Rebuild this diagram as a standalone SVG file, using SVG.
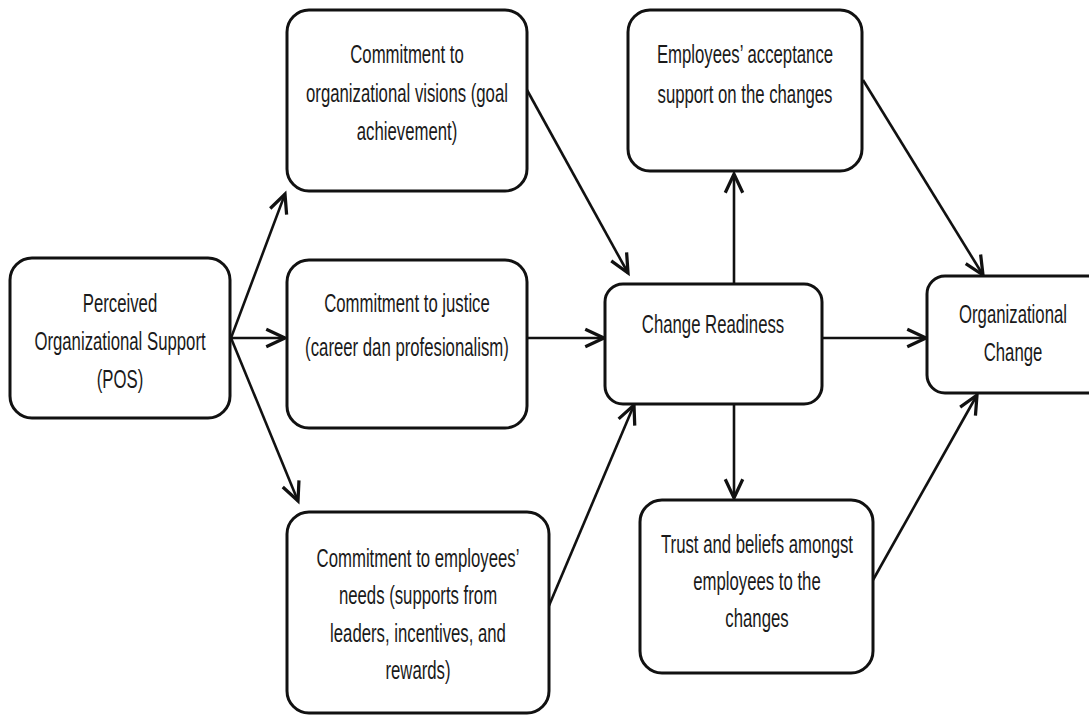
<svg xmlns="http://www.w3.org/2000/svg" width="1089" height="717" viewBox="0 0 1089 717">
<style>
.box{fill:#fff;stroke:#111;stroke-width:3}
.t{font-family:"Liberation Sans",Arial,sans-serif;font-size:25px;fill:#1a1a1a;text-anchor:middle}
.c{fill:none;stroke:#111;stroke-width:2.6}
</style>
<defs>
<marker id="ah" markerUnits="userSpaceOnUse" markerWidth="30" markerHeight="30" refX="0" refY="0" viewBox="-20 -12 24 24" orient="auto">
<path d="M-15,-7 L0,0 L-15,7" fill="none" stroke="#111" stroke-width="2.6" stroke-linejoin="miter"/>
</marker>
</defs>
<rect width="1089" height="717" fill="#fff"/>
<g id="connectors">
<line class="c" x1="231" y1="338" x2="285" y2="194" marker-end="url(#ah)"/>
<line class="c" x1="231" y1="338" x2="285" y2="338" marker-end="url(#ah)"/>
<line class="c" x1="231" y1="338" x2="298" y2="501" marker-end="url(#ah)"/>
<line class="c" x1="527" y1="90" x2="628" y2="273" marker-end="url(#ah)"/>
<line class="c" x1="527" y1="338" x2="604" y2="338" marker-end="url(#ah)"/>
<line class="c" x1="548" y1="608" x2="634" y2="405" marker-end="url(#ah)"/>
<line class="c" x1="734" y1="284" x2="734" y2="174" marker-end="url(#ah)"/>
<line class="c" x1="734" y1="404" x2="734" y2="498" marker-end="url(#ah)"/>
<line class="c" x1="822" y1="338" x2="926" y2="338" marker-end="url(#ah)"/>
<line class="c" x1="863" y1="80" x2="983" y2="275" marker-end="url(#ah)"/>
<line class="c" x1="873" y1="580" x2="977" y2="395" marker-end="url(#ah)"/>
</g>
<g id="pos">
<rect class="box" x="10" y="258" width="220" height="160" rx="22"/>
<g transform="translate(120,0) scale(0.67,1)">
<text class="t" x="0" y="312">Perceived</text>
<text class="t" x="0" y="350">Organizational Support</text>
<text class="t" x="0" y="388">(POS)</text>
</g>
</g>
<g id="commit-vision">
<rect class="box" x="287" y="10" width="240" height="181" rx="22"/>
<g transform="translate(407,0) scale(0.67,1)">
<text class="t" x="0" y="63">Commitment to</text>
<text class="t" x="0" y="102">organizational visions (goal</text>
<text class="t" x="0" y="140">achievement)</text>
</g>
</g>
<g id="commit-justice">
<rect class="box" x="287" y="260" width="240" height="168" rx="22"/>
<g transform="translate(407,0) scale(0.67,1)">
<text class="t" x="0" y="312">Commitment to justice</text>
<text class="t" x="0" y="356">(career dan profesionalism)</text>
</g>
</g>
<g id="commit-needs">
<rect class="box" x="287" y="512" width="262" height="201" rx="22"/>
<g transform="translate(418,0) scale(0.67,1)">
<text class="t" x="0" y="567">Commitment to employees’</text>
<text class="t" x="0" y="604">needs (supports from</text>
<text class="t" x="0" y="642">leaders, incentives, and</text>
<text class="t" x="0" y="679">rewards)</text>
</g>
</g>
<g id="change-readiness">
<rect class="box" x="605" y="284" width="217" height="120" rx="18"/>
<g transform="translate(713,0) scale(0.67,1)">
<text class="t" x="0" y="333">Change Readiness</text>
</g>
</g>
<g id="acceptance">
<rect class="box" x="628" y="10" width="234" height="161" rx="22"/>
<g transform="translate(745,0) scale(0.67,1)">
<text class="t" x="0" y="63">Employees’ acceptance</text>
<text class="t" x="0" y="103">support on the changes</text>
</g>
</g>
<g id="trust">
<rect class="box" x="640" y="500" width="233" height="173" rx="22"/>
<g transform="translate(757,0) scale(0.67,1)">
<text class="t" x="0" y="553">Trust and beliefs amongst</text>
<text class="t" x="0" y="590">employees to the</text>
<text class="t" x="0" y="627">changes</text>
</g>
</g>
<g id="org-change">
<rect class="box" x="927" y="276" width="200" height="117" rx="18"/>
<g transform="translate(1013,0) scale(0.67,1)">
<text class="t" x="0" y="323">Organizational</text>
<text class="t" x="0" y="361">Change</text>
</g>
</g>
</svg>
